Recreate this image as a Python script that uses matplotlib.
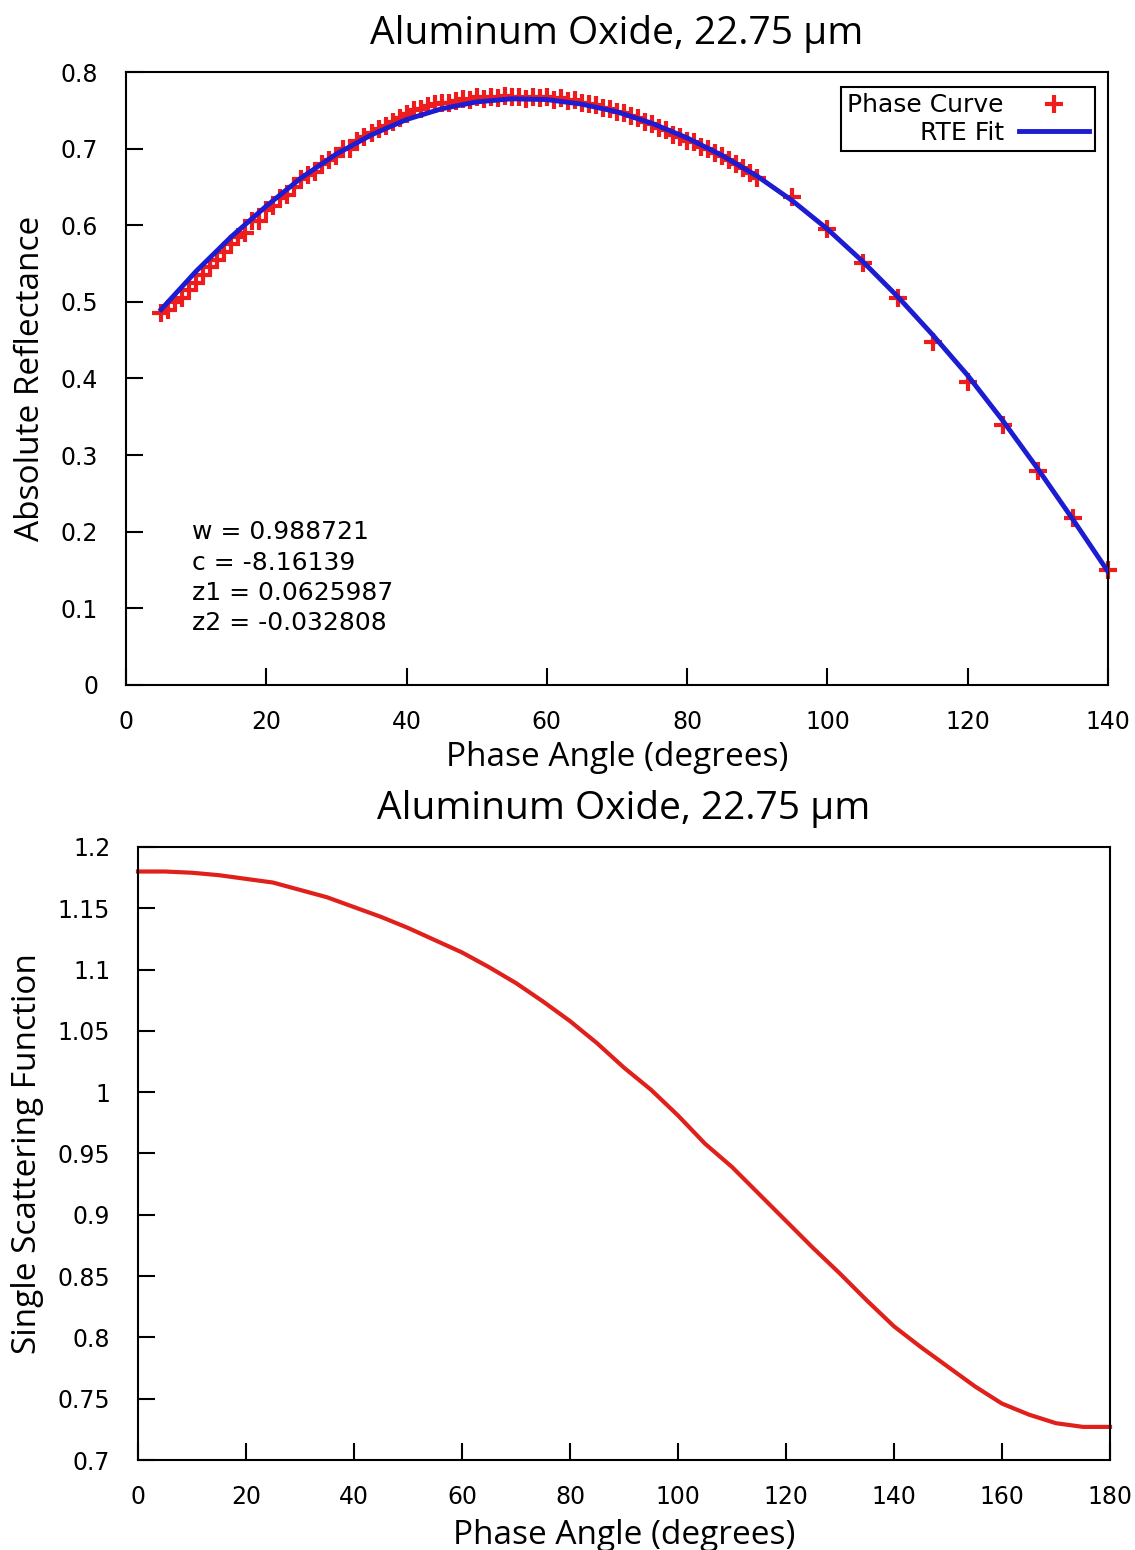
import numpy as np
import matplotlib
matplotlib.use("Agg")
from matplotlib import pyplot as plt

# Text
TITLE = "Aluminum Oxide, 22.75 µm"
XLABEL = "Phase Angle (degrees)"
TOP_YLABEL = "Absolute Reflectance"
BOTTOM_YLABEL = "Single Scattering Function"
FIT_TEXT = "w = 0.988721\nc = -8.16139\nz1 = 0.0625987\nz2 = -0.032808"

# Colours / styles
POINTCOLOR = '#ee1c1c'
FITCOLOR = '#1c1cd2'
CURVECOLOR = '#e0201a'
LABELFONT = 'Open Sans'
TICKFONT = 'DejaVu Sans'

# Top panel: measured phase curve (dense part, 1 degree steps)
phase_dense_x = list(range(5, 91))
phase_dense_y = [
    0.485, 0.490, 0.500, 0.505, 0.515, 0.525, 0.535, 0.545, 0.555, 0.565,   # 5-14
    0.575, 0.585, 0.590, 0.605, 0.605, 0.620, 0.625, 0.635, 0.640, 0.650,   # 15-24
    0.660, 0.665, 0.670, 0.680, 0.685, 0.690, 0.700, 0.700, 0.710, 0.715,   # 25-34
    0.720, 0.725, 0.730, 0.735, 0.740, 0.745, 0.750, 0.752, 0.755, 0.758,   # 35-44
    0.760, 0.760, 0.762, 0.765, 0.763, 0.767, 0.765, 0.768, 0.766, 0.769,   # 45-54
    0.767, 0.768, 0.765, 0.768, 0.766, 0.767, 0.764, 0.766, 0.762, 0.764,   # 55-64
    0.760, 0.758, 0.757, 0.753, 0.752, 0.748, 0.746, 0.742, 0.740, 0.735,   # 65-74
    0.732, 0.727, 0.724, 0.718, 0.715, 0.710, 0.708, 0.702, 0.700, 0.694,   # 75-84
    0.690, 0.685, 0.680, 0.675, 0.668, 0.662,                               # 85-90
]
# sparse part
phase_sparse_x = [95, 100, 105, 110, 115, 120, 125, 130, 135, 140]
phase_sparse_y = [0.637, 0.595, 0.551, 0.505, 0.448, 0.395, 0.339, 0.279, 0.218, 0.150]

# RTE fit
fit_x = [5, 10, 15, 20, 25, 30, 35, 40, 45, 50, 55, 60, 65, 70,
         75, 80, 85, 90, 95, 100, 105, 110, 115, 120, 125, 130, 135, 140]
fit_y = [0.490, 0.540, 0.585, 0.625, 0.662, 0.693, 0.718, 0.738, 0.752, 0.761,
         0.765, 0.764, 0.758, 0.748, 0.733, 0.714, 0.691, 0.664, 0.632, 0.595,
         0.553, 0.507, 0.457, 0.404, 0.345, 0.282, 0.216, 0.148]

# Bottom panel: single scattering function
ssf_x = list(range(0, 181, 5))
ssf_y = [1.180, 1.180, 1.179, 1.177, 1.174, 1.171, 1.165, 1.159, 1.151, 1.143,
         1.134, 1.124, 1.114, 1.102, 1.089, 1.074, 1.058, 1.040, 1.020, 1.002,
         0.981, 0.958, 0.939, 0.917, 0.895, 0.873, 0.852, 0.830, 0.809, 0.792,
         0.776, 0.760, 0.746, 0.737, 0.730, 0.727, 0.727]

top_xticks = [0, 20, 40, 60, 80, 100, 120, 140]
top_yticks = [0, 0.1, 0.2, 0.3, 0.4, 0.5, 0.6, 0.7, 0.8]
top_yticklabels = ['0', '0.1', '0.2', '0.3', '0.4', '0.5', '0.6', '0.7', '0.8']
bot_xticks = [0, 20, 40, 60, 80, 100, 120, 140, 160, 180]
bot_yticks = [0.7, 0.75, 0.8, 0.85, 0.9, 0.95, 1.0, 1.05, 1.1, 1.15, 1.2]
bot_yticklabels = ['0.7', '0.75', '0.8', '0.85', '0.9', '0.95', '1', '1.05',
                   '1.1', '1.15', '1.2']


def style_axes(ax):
    for s in ax.spines.values():
        s.set_linewidth(1.5)
    ax.tick_params(direction='in', length=12, width=1.5, top=False, right=False,
                   labelsize=17)
    ax.tick_params(axis='x', pad=18)
    ax.tick_params(axis='y', pad=20)
    for t in ax.get_xticklabels() + ax.get_yticklabels():
        t.set_family(TICKFONT)


fig = plt.figure(figsize=(11.35, 15.5), dpi=100)

# ---- top panel ----
ax = fig.add_axes([126 / 1135, 1 - 685 / 1550, 982 / 1135, 613 / 1550])
ax.plot(phase_dense_x + phase_sparse_x, phase_dense_y + phase_sparse_y,
        linestyle='none', marker='+', markersize=13, markeredgewidth=3,
        color=POINTCOLOR, label='Phase Curve', clip_on=False, zorder=2)
ax.plot(fit_x, fit_y, color=FITCOLOR, linewidth=3.5, label='RTE Fit', zorder=3)
ax.set_xlim(0, 140)
ax.set_ylim(0, 0.8)
ax.set_xticks(top_xticks)
ax.set_yticks(top_yticks)
ax.set_yticklabels(top_yticklabels)
style_axes(ax)
ax.set_title(TITLE, fontsize=28, family=LABELFONT, pad=20)
ax.set_xlabel(XLABEL, fontsize=24, family=LABELFONT, labelpad=5)
ax.set_ylabel(TOP_YLABEL, fontsize=24, family=LABELFONT, labelpad=10)
ax.text(9.4, 0.215, FIT_TEXT, fontsize=18, family=TICKFONT, va='top',
        ha='left', linespacing=1.33)
leg = ax.legend(loc='upper right', bbox_to_anchor=(0.9868, 0.9755),
                borderaxespad=0, markerfirst=False, fancybox=False,
                edgecolor='black', framealpha=1,
                prop={'family': TICKFONT, 'size': 18},
                handlelength=2.8, handletextpad=0.6, borderpad=0.25,
                labelspacing=0.15)
leg.get_frame().set_linewidth(1.5)

# ---- bottom panel ----
ax2 = fig.add_axes([138 / 1135, 1 - 1460 / 1550, 972 / 1135, 613 / 1550])
ax2.plot(ssf_x, ssf_y, color=CURVECOLOR, linewidth=3, clip_on=False)
ax2.set_xlim(0, 180)
ax2.set_ylim(0.7, 1.2)
ax2.set_xticks(bot_xticks)
ax2.set_yticks(bot_yticks)
ax2.set_yticklabels(bot_yticklabels)
style_axes(ax2)
ax2.set_title(TITLE, fontsize=28, family=LABELFONT, pad=20)
ax2.set_xlabel(XLABEL, fontsize=24, family=LABELFONT, labelpad=7)
ax2.set_ylabel(BOTTOM_YLABEL, fontsize=24, family=LABELFONT, labelpad=10)

fig.savefig('out.png', dpi=100)
